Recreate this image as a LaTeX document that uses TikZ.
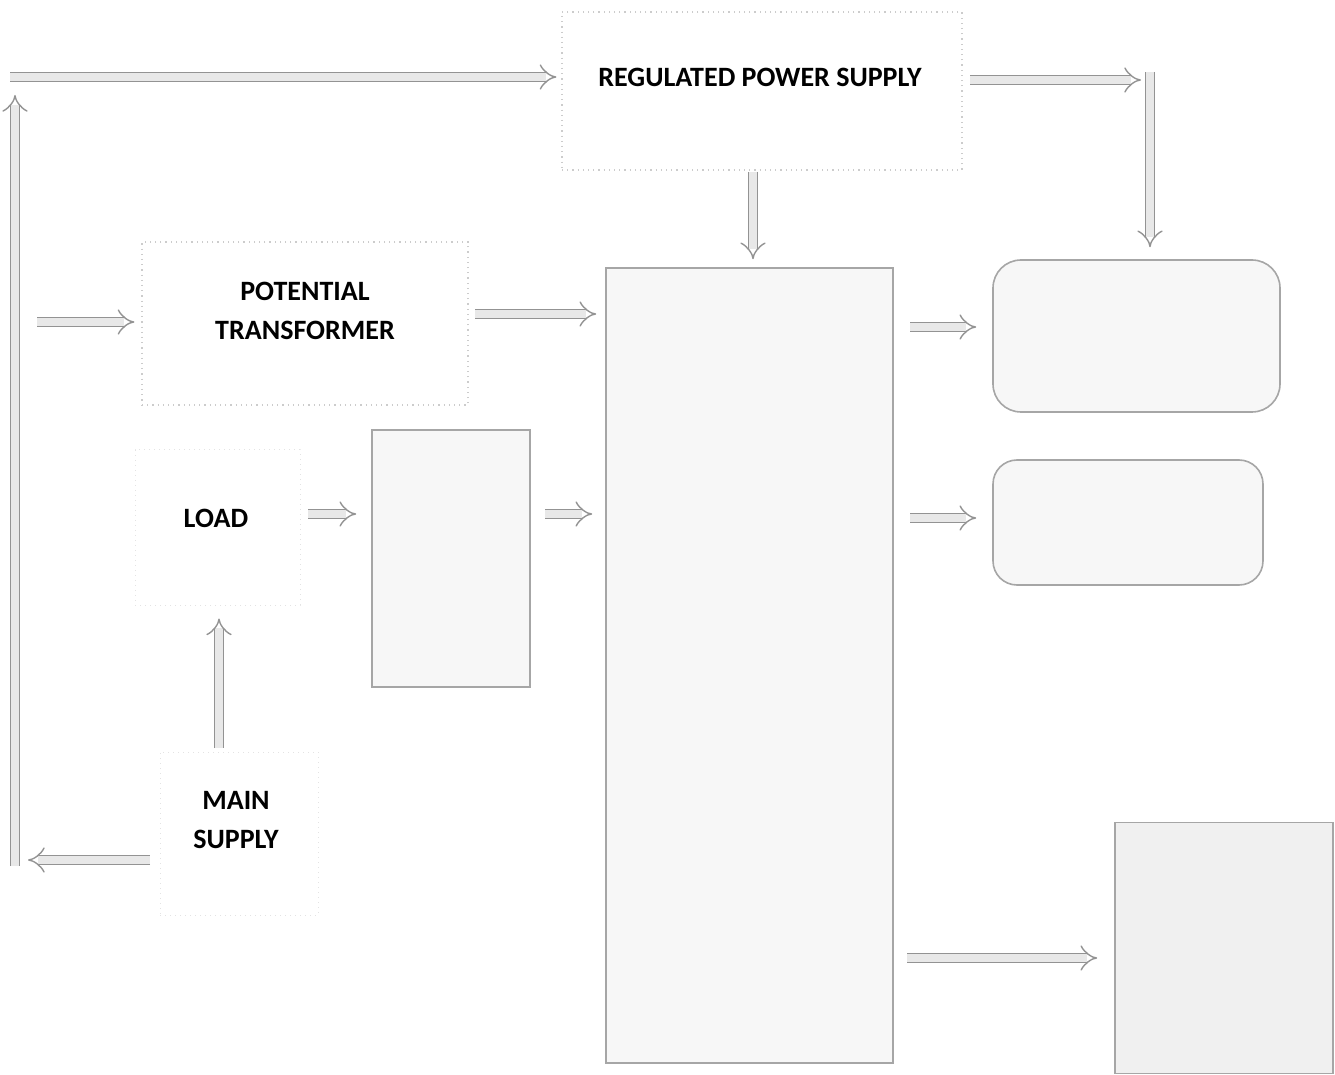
\documentclass[tikz,border=0pt]{standalone}
\usepackage{fontspec}
\setmainfont{Carlito}
\usetikzlibrary{arrows.meta,calc}
\begin{document}
\begin{tikzpicture}[x=0.5pt,y=-0.5pt,
  lbl/.style={font=\fontsize{14}{19.5}\selectfont\bfseries, align=center, inner sep=0},
  faint/.style={draw=gray!40, dotted, line width=0.6pt, inner sep=0},
  fainter/.style={draw=gray!22, dotted, line width=0.5pt, inner sep=0},
  solidbox/.style={draw=gray!70, line width=0.8pt, fill=gray!6, inner sep=0},
  blk/.style={draw=gray!85, line width=0.7pt, double=gray!18, double distance=3.8pt, -{Implies}},
]
\useasboundingbox (0,0) rectangle (1335,1075);
% boxes
\node[faint, minimum width=200pt, minimum height=79pt] (rps) at (762,91) {};
\node[faint, minimum width=163pt, minimum height=81.5pt] (pt) at (305,323.5) {};
\node[fainter, minimum width=82.5pt, minimum height=77.5pt] (load) at (217.5,527.5) {};
\node[fainter, minimum width=79pt, minimum height=81.5pt] (ms) at (239,833.5) {};
\node[solidbox, minimum width=79pt, minimum height=128.5pt] (small) at (451,558.5) {};
\node[solidbox, minimum width=143.5pt, minimum height=397.5pt] (big) at (749.5,665.5) {};
\node[solidbox, rounded corners=14pt, minimum width=143.5pt, minimum height=76pt] (rr1) at (1136.5,336) {};
\node[solidbox, rounded corners=12pt, minimum width=135pt, minimum height=62.5pt] (rr2) at (1128,522.5) {};
\node[solidbox, fill=gray!12, minimum width=109pt, minimum height=125.5pt] (br) at (1224,948) {};
% texts
\node[lbl] (rpsT) at (760,77) {REGULATED POWER SUPPLY};
\node[lbl] (ptT) at (305,311) {POTENTIAL\\TRANSFORMER};
\node[lbl] (loadT) at (216,518) {LOAD};
\node[lbl] (msT) at (236,820) {MAIN\\SUPPLY};
% coordinates
\coordinate (tl) at (10,77);
\coordinate (lb) at (15,866);
\coordinate (lt) at (15,95);
\coordinate (msl) at (150,860);
\coordinate (blt) at (28,860);
\coordinate (pin) at (37,322);
\coordinate (pto) at (475,314);
\coordinate (rpsd) at (753,172);
\coordinate (rpo) at (970,80);
\coordinate (rtc) at (1141,80);
\coordinate (rvt) at (1150,72);
\coordinate (lo) at (308,514);
\coordinate (so) at (545,514);
\coordinate (mst) at (219,748);
\coordinate (b1) at (910,327);
\coordinate (b2) at (910,518);
\coordinate (b3) at (907,958);
% arrows
\draw[blk, shorten >=2.5pt] (tl) -- (tl -| rps.west);
\draw[blk] (lb) -- (lt);
\draw[blk] (msl) -- (blt);
\draw[blk, shorten >=3.5pt] (pin) -- (pin -| pt.west);
\draw[blk, shorten >=4.5pt] (pto) -- (pto -| big.west);
\draw[blk, shorten >=4pt] (rpsd) -- (rpsd |- big.north);
\draw[blk] (rpo) -- (rtc);
\draw[blk, shorten >=6pt] (rvt) -- (rvt |- rr1.north);
\draw[blk, shorten >=7.5pt] (lo) -- (lo -| small.west);
\draw[blk, shorten >=6.5pt] (so) -- (so -| big.west);
\draw[blk, shorten >=6.5pt] (mst) -- (mst |- load.south);
\draw[blk, shorten >=8pt] (b1) -- (b1 -| rr1.west);
\draw[blk, shorten >=8pt] (b2) -- (b2 -| rr2.west);
\draw[blk, shorten >=8.5pt] (b3) -- (b3 -| br.west);
\end{tikzpicture}
\end{document}
